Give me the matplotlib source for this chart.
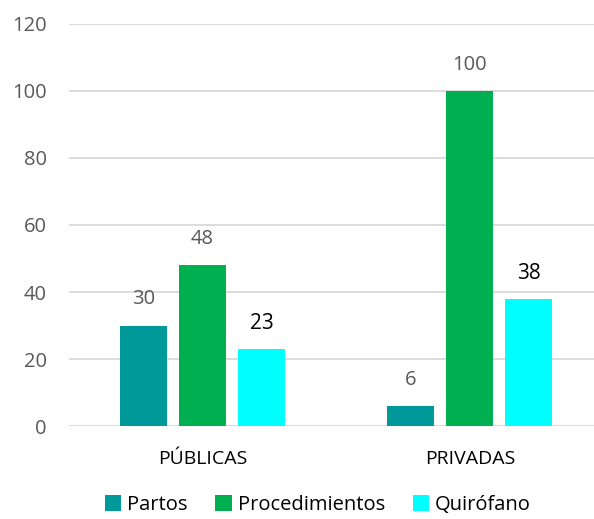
import numpy as np
import matplotlib.pyplot as plt

categories = ["PÚBLICAS", "PRIVADAS"]
series = ["Partos", "Procedimientos", "Quirófano"]
partos = [30, 6]
procedimientos = [48, 100]
quirofano = [23, 38]
colors = ["#009999", "#00B050", "#00FFFF"]

plt.rcParams['font.family'] = ['Open Sans', 'DejaVu Sans']

fig = plt.figure(figsize=(5.94, 5.19), dpi=100)
ax = fig.add_axes([0.116, 0.179, 0.884, 0.775])

x = np.arange(len(categories))
width = 0.176
step = 0.2206
values = [partos, procedimientos, quirofano]

for i, (name, vals, c) in enumerate(zip(series, values, colors)):
    pos = x + (i - 1) * step
    ax.bar(pos, vals, width, color=c, label=name, zorder=3)
    for p, v in zip(pos, vals):
        if name == "Quirófano":
            ax.text(p, v + 7.5, str(v), ha="center", va="center",
                    fontsize=15, color="black")
        else:
            ax.text(p, v + 7.8, str(v), ha="center", va="center",
                    fontsize=14.5, color="#595959")

ax.set_ylim(0, 120)
ax.set_xlim(-0.499, 0.464 + 1)
ax.set_yticks(range(0, 121, 20))
ax.set_xticks(x)
ax.set_xticklabels(categories, fontsize=14, color="black")
ax.tick_params(axis="y", labelsize=14.5, labelcolor="#595959", length=0, pad=16)
ax.tick_params(axis="x", length=0, pad=17)
ax.grid(axis="y", color="#D9D9D9", linewidth=1.3, zorder=0)
for s in ax.spines.values():
    s.set_visible(False)

fig.legend(loc="lower center", bbox_to_anchor=(0.535, -0.027), ncol=3,
           frameon=False, fontsize=14.5, handlelength=0.8, handleheight=0.8,
           handletextpad=0.3, columnspacing=1.4)

fig.savefig("out.png", dpi=100)
